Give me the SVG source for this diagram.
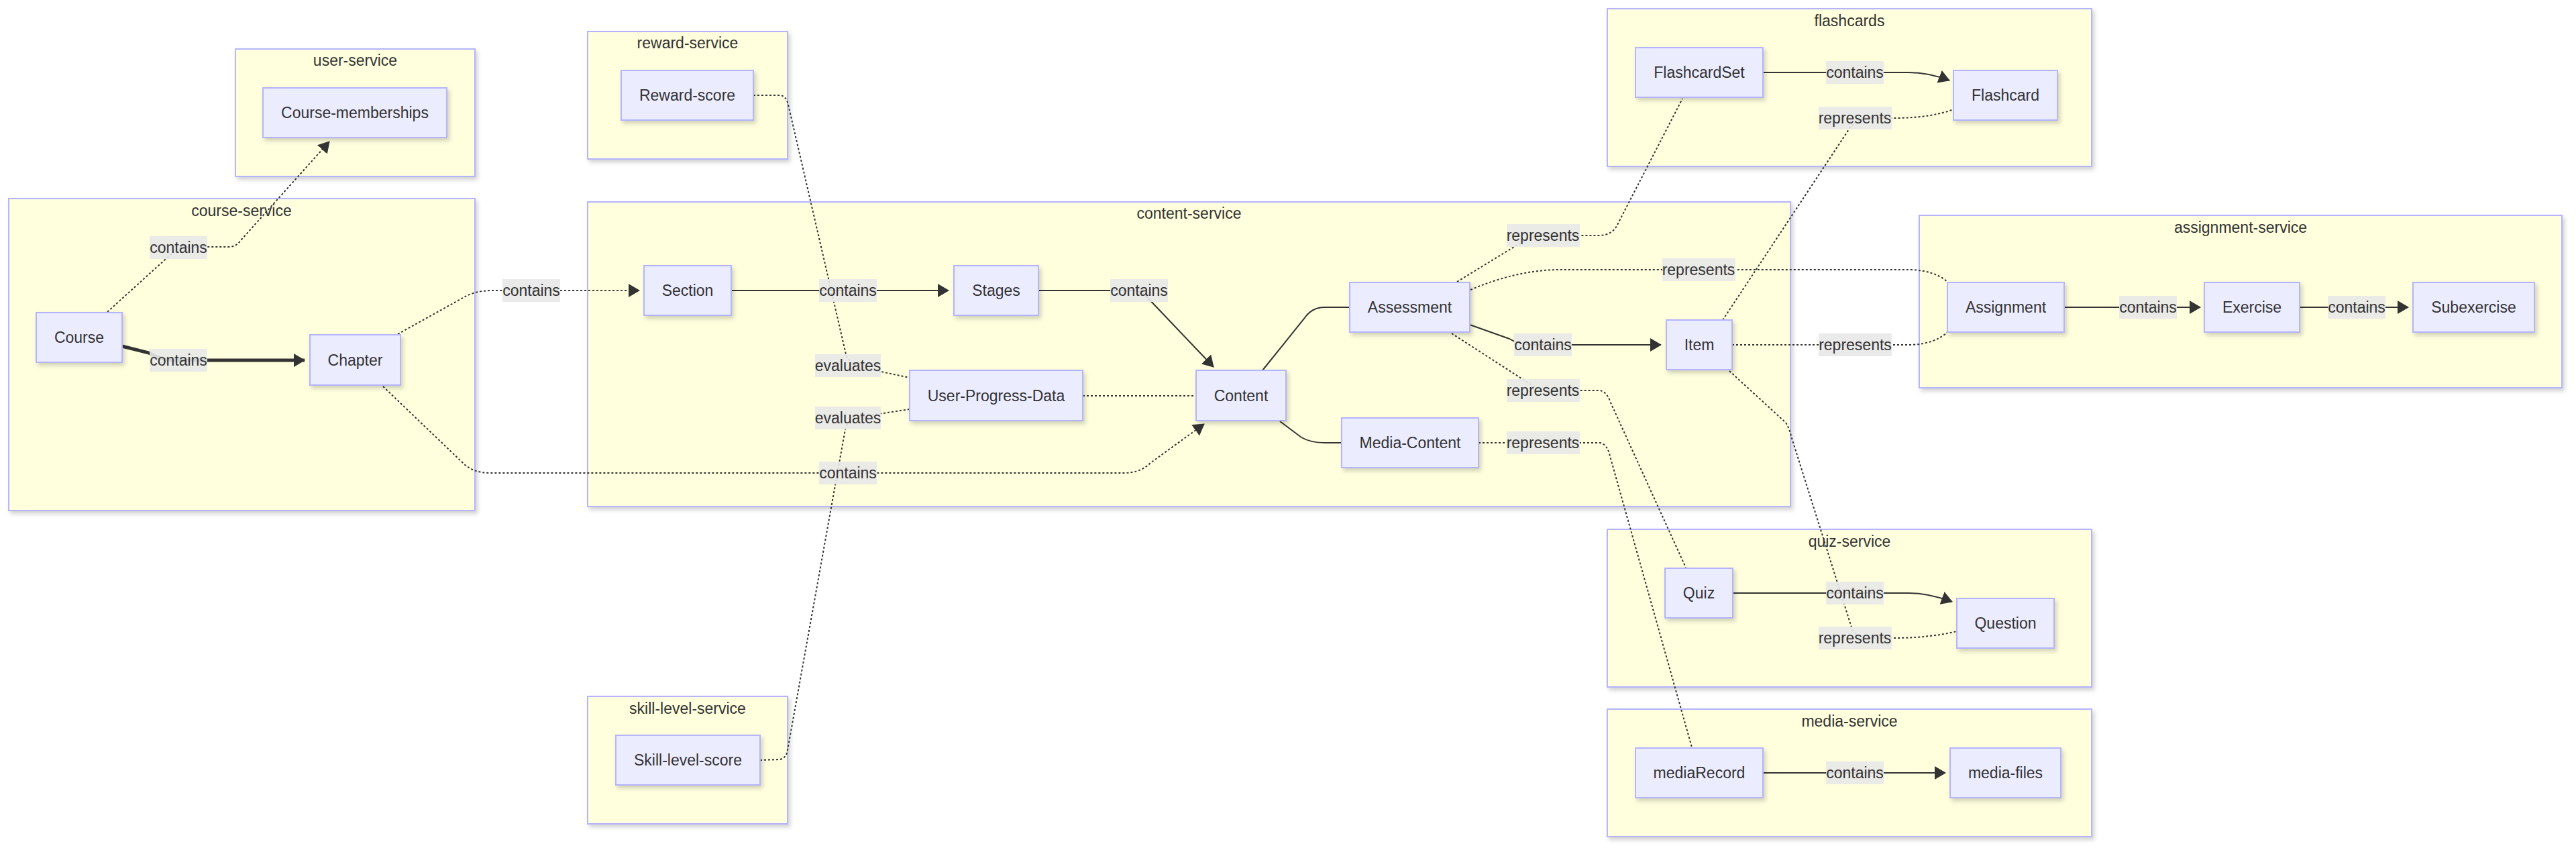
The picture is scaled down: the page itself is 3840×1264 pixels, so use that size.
<svg xmlns="http://www.w3.org/2000/svg" width="3840" height="1264" viewBox="0 0 3840 1264">
<style>
text{font-family:"Liberation Sans",Arial,Helvetica,sans-serif;font-size:23px;fill:#333;text-anchor:middle;dominant-baseline:central}
.cl{fill:#ffffde;stroke:#b4b4ff;stroke-width:2;filter:url(#sh)}
.nd{fill:#ececff;stroke:#b4b4ff;stroke-width:2;filter:url(#sh)}
.e{fill:none;stroke:#333;stroke-width:2}
.d{fill:none;stroke:#333;stroke-width:2;stroke-dasharray:3 3}
.t{fill:none;stroke:#333;stroke-width:5}
.lb{fill:#e8e8e8;opacity:0.9}
</style>
<defs>
<filter id="sh" x="-10%" y="-10%" width="130%" height="140%">
<feDropShadow dx="3" dy="4" stdDeviation="3" flood-color="#000" flood-opacity="0.18"/>
</filter>
<marker id="ar" markerUnits="userSpaceOnUse" markerWidth="17" markerHeight="20" refX="16" refY="10" orient="auto">
<path d="M0,0 L17,10 L0,20 z" fill="#333"/>
</marker>
</defs>

<g id="clusters">
<g id="user-service"><rect class="cl" x="351" y="73" width="357" height="190"/><text x="529.5" y="90">user-service</text></g>
<g id="course-service"><rect class="cl" x="13" y="296" width="695" height="465"/><text x="360" y="314">course-service</text></g>
<g id="reward-service"><rect class="cl" x="876" y="47" width="298" height="190"/><text x="1025" y="64">reward-service</text></g>
<g id="content-service"><rect class="cl" x="876" y="301" width="1793" height="454"/><text x="1772.5" y="318">content-service</text></g>
<g id="skill-level-service"><rect class="cl" x="876" y="1038" width="298" height="190"/><text x="1025" y="1056">skill-level-service</text></g>
<g id="flashcards"><rect class="cl" x="2396" y="13" width="722" height="235"/><text x="2757" y="31">flashcards</text></g>
<g id="assignment-service"><rect class="cl" x="2861" y="321" width="958" height="257"/><text x="3340" y="339">assignment-service</text></g>
<g id="quiz-service"><rect class="cl" x="2396" y="789" width="722" height="235"/><text x="2757" y="807">quiz-service</text></g>
<g id="media-service"><rect class="cl" x="2396" y="1057" width="722" height="190"/><text x="2757" y="1075">media-service</text></g>
</g>

<g id="connectors">
<path class="d" d="M160,465 L257,377 C262,372 266,368 275,368 L340,368 C350,368 355,364 360,357 L491,211" marker-end="url(#ar)"/>
<path class="t" d="M182,516 L222,526 Q240,537 262,537 L454,537" marker-end="url(#ar)"/>
<path class="d" d="M593,498 L690,444 Q706,434 730,433 L953,433" marker-end="url(#ar)"/>
<path class="d" d="M571,576 L690,690 Q705,705 730,705 L1675,705 Q1700,705 1715,690 L1795,632" marker-end="url(#ar)"/>
<path class="e" d="M1090,433 L1414,433" marker-end="url(#ar)"/>
<path class="e" d="M1548,433 L1690,433 Q1702,433 1710,443 L1809,547" marker-end="url(#ar)"/>
<path class="e" d="M1882,552 L1944,475 Q1955,458 1975,458 L2012,458"/>
<path class="e" d="M1908,628 L1940,652 Q1954,660 1975,660 L2000,660"/>
<path class="d" d="M1614,590 L1783,590"/>
<path class="d" d="M1123,142 L1163,142 Q1172,143 1175,156 L1261,528 Q1266,545 1290,549 L1356,563"/>
<path class="d" d="M1133,1133 L1163,1132 Q1172,1130 1174,1118 L1260,640 Q1264,625 1290,620 L1356,610"/>
<path class="e" d="M2191,484 L2250,505 Q2265,514 2285,514 L2476,514" marker-end="url(#ar)"/>
<path class="d" d="M2172,420 L2270,360 Q2285,351 2300,351 L2385,351 Q2405,350 2412,333 L2508,147"/>
<path class="d" d="M2192,432 Q2260,403 2322,402 L2850,402 Q2885,404 2903,420"/>
<path class="d" d="M2582,514 L2850,514 Q2885,512 2903,495"/>
<path class="d" d="M2568,477 L2756,193 Q2765,176 2790,176 L2830,176 Q2880,175 2912,163"/>
<path class="d" d="M2164,497 L2288,577 Q2295,582 2310,582 L2385,582 Q2395,584 2400,598 L2513,846"/>
<path class="d" d="M2204,660 L2385,660 Q2396,662 2400,680 L2522,1114"/>
<path class="d" d="M2578,553 L2662,630 Q2668,640 2670,650 L2760,935 Q2765,951 2790,951 L2830,951 Q2880,950 2917,941"/>
<path class="e" d="M2628,108 L2845,108 Q2875,108 2906,120" marker-end="url(#ar)"/>
<path class="e" d="M2583,884 L2845,884 Q2875,884 2910,897" marker-end="url(#ar)"/>
<path class="e" d="M2628,1152 L2900,1152" marker-end="url(#ar)"/>
<path class="e" d="M3077,458 L3280,458" marker-end="url(#ar)"/>
<path class="e" d="M3428,458 L3590,458" marker-end="url(#ar)"/>
</g>

<g id="edge-labels">
<rect class="lb" x="223" y="352" width="86" height="34"/><text x="266" y="369">contains</text>
<rect class="lb" x="223" y="520" width="86" height="34"/><text x="266" y="537">contains</text>
<rect class="lb" x="749" y="416" width="86" height="34"/><text x="792" y="433">contains</text>
<rect class="lb" x="1221" y="416" width="86" height="34"/><text x="1264" y="433">contains</text>
<rect class="lb" x="1655" y="416" width="86" height="34"/><text x="1698" y="433">contains</text>
<rect class="lb" x="1221" y="688" width="86" height="34"/><text x="1264" y="705">contains</text>
<rect class="lb" x="1215" y="528" width="98" height="34"/><text x="1264" y="545">evaluates</text>
<rect class="lb" x="1215" y="606" width="98" height="34"/><text x="1264" y="623">evaluates</text>
<rect class="lb" x="2257" y="497" width="86" height="34"/><text x="2300" y="514">contains</text>
<rect class="lb" x="2246" y="334" width="109" height="34"/><text x="2300" y="351">represents</text>
<rect class="lb" x="2478" y="385" width="109" height="34"/><text x="2532" y="402">represents</text>
<rect class="lb" x="2246" y="565" width="109" height="34"/><text x="2300" y="582">represents</text>
<rect class="lb" x="2246" y="643" width="109" height="34"/><text x="2300" y="660">represents</text>
<rect class="lb" x="2711" y="497" width="109" height="34"/><text x="2765.5" y="514">represents</text>
<rect class="lb" x="2722" y="91" width="86" height="34"/><text x="2765" y="108">contains</text>
<rect class="lb" x="2711" y="159" width="109" height="34"/><text x="2765" y="176">represents</text>
<rect class="lb" x="2722" y="867" width="86" height="34"/><text x="2765" y="884">contains</text>
<rect class="lb" x="2711" y="934" width="109" height="34"/><text x="2765" y="951">represents</text>
<rect class="lb" x="2722" y="1135" width="86" height="34"/><text x="2765" y="1152">contains</text>
<rect class="lb" x="3159" y="441" width="86" height="34"/><text x="3202" y="458">contains</text>
<rect class="lb" x="3470" y="441" width="86" height="34"/><text x="3513" y="458">contains</text>
</g>

<g id="nodes">
<g id="Course-memberships"><rect class="nd" x="392" y="131" width="274" height="74"/><text x="529" y="168">Course-memberships</text></g>
<g id="Course"><rect class="nd" x="54" y="466" width="128" height="74"/><text x="118" y="503">Course</text></g>
<g id="Chapter"><rect class="nd" x="462" y="499" width="135" height="75"/><text x="529.5" y="536.5">Chapter</text></g>
<g id="Reward-score"><rect class="nd" x="926" y="105" width="197" height="74"/><text x="1024.5" y="142">Reward-score</text></g>
<g id="Section"><rect class="nd" x="960" y="396" width="130" height="74"/><text x="1025" y="433">Section</text></g>
<g id="Stages"><rect class="nd" x="1422" y="396" width="126" height="74"/><text x="1485" y="433">Stages</text></g>
<g id="User-Progress-Data"><rect class="nd" x="1356" y="552" width="258" height="75"/><text x="1485" y="589.5">User-Progress-Data</text></g>
<g id="Content"><rect class="nd" x="1783" y="552" width="134" height="75"/><text x="1850" y="589.5">Content</text></g>
<g id="Assessment"><rect class="nd" x="2012" y="421" width="179" height="74"/><text x="2101.5" y="458">Assessment</text></g>
<g id="Media-Content"><rect class="nd" x="2000" y="623" width="204" height="74"/><text x="2102" y="660">Media-Content</text></g>
<g id="Item"><rect class="nd" x="2484" y="477" width="98" height="74"/><text x="2533" y="514">Item</text></g>
<g id="Skill-level-score"><rect class="nd" x="918" y="1096" width="215" height="74"/><text x="1025.5" y="1133">Skill-level-score</text></g>
<g id="FlashcardSet"><rect class="nd" x="2438" y="71" width="190" height="74"/><text x="2533" y="108">FlashcardSet</text></g>
<g id="Flashcard"><rect class="nd" x="2912" y="105" width="155" height="74"/><text x="2989.5" y="142">Flashcard</text></g>
<g id="Assignment"><rect class="nd" x="2903" y="421" width="174" height="74"/><text x="2990" y="458">Assignment</text></g>
<g id="Exercise"><rect class="nd" x="3286" y="421" width="142" height="74"/><text x="3357" y="458">Exercise</text></g>
<g id="Subexercise"><rect class="nd" x="3597" y="421" width="181" height="74"/><text x="3687.5" y="458">Subexercise</text></g>
<g id="Quiz"><rect class="nd" x="2482" y="847" width="101" height="74"/><text x="2532.5" y="884">Quiz</text></g>
<g id="Question"><rect class="nd" x="2917" y="892" width="145" height="74"/><text x="2989.5" y="929">Question</text></g>
<g id="mediaRecord"><rect class="nd" x="2438" y="1115" width="190" height="74"/><text x="2533" y="1152">mediaRecord</text></g>
<g id="media-files"><rect class="nd" x="2907" y="1115" width="165" height="74"/><text x="2989.5" y="1152">media-files</text></g>
</g>
</svg>
